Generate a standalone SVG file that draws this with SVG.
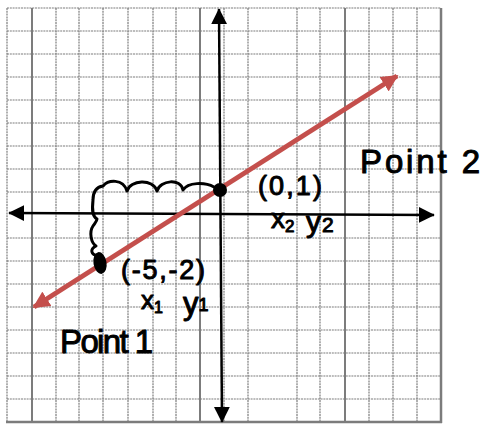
<svg xmlns="http://www.w3.org/2000/svg" width="483" height="424" viewBox="0 0 483 424">
<defs>
<style>
.g{stroke:#7c7c7c;stroke-width:1.2;stroke-dasharray:2 0.8;fill:none}
.gt{stroke:#7c7c7c;stroke-width:2;fill:none}
.ax{stroke:#000;stroke-width:2.5;fill:none}
.red{stroke:#c44f4c;stroke-width:5;fill:none}
.hw{font-family:"Liberation Sans",Arial,sans-serif;fill:#000;stroke:#000;stroke-width:1;stroke-linejoin:round}
</style>
<marker id="ba" viewBox="0 0 10 10" refX="9.5" refY="5" markerWidth="6.5" markerHeight="6.5" orient="auto-start-reverse" markerUnits="strokeWidth">
<path d="M0,0 L10,5 L0,10 Z" fill="#000"/>
</marker>
<marker id="ra" viewBox="0 0 10 10" refX="9" refY="5" markerWidth="3.4" markerHeight="3.4" orient="auto-start-reverse" markerUnits="strokeWidth">
<path d="M0,0 L10,5 L0,10 Z" fill="#c44f4c"/>
</marker>
</defs>
<rect width="483" height="424" fill="#fff"/>
<g id="grid">
<path class="g" d="M56,8V422M79,8V422M103,8V422M128,8V422M153,8V422M176,8V422M224,8V422M248,8V422M297,8V422M320,8V422M369,8V422M393,8V422M417,8V422"/>
<path class="gt" d="M32,8V422M200,8V422M345,8V422"/>
<path class="g" d="M7,31H441M7,54H441M7,77H441M7,100H441M7,123H441M7,146H441M7,169H441M7,192H441M7,238H441M7,261H441M7,284H441M7,307H441M7,330H441M7,353H441M7,376H441M7,399H441"/>
<path class="g" d="M7,8H441M7,8V422"/>
<path class="gt" d="M441,8V423M6,422H442" style="stroke-width:2.5"/>
</g>
<g id="connectors">
<line class="ax" x1="9" y1="213" x2="434" y2="215" marker-start="url(#ba)" marker-end="url(#ba)"/>
<line class="ax" x1="219" y1="9" x2="222" y2="422" marker-start="url(#ba)" marker-end="url(#ba)"/>
<line class="red" x1="34" y1="307" x2="397" y2="76" marker-start="url(#ra)" marker-end="url(#ra)"/>
<path d="M99,256 C90,255 90,249 96,246 C91,243 89,232 93,226 C95,223 97,221 97,219 C92,216 92,209 93,200 C93,192 96,187 103,186 C108,180 123,178 127,191 C130,180 153,178 157,191 C160,180 181,178 183,190 C188,182 205,182 214,187" fill="none" stroke="#000" stroke-width="3" stroke-linecap="round" stroke-linejoin="round"/>
</g>
<g id="point2">
<circle cx="220" cy="190" r="7" fill="#000"/>
<text class="hw" x="258" y="195" font-size="27" textLength="64" lengthAdjust="spacing">(0,1)</text>
<text class="hw" x="271" y="228" font-size="28">x<tspan font-size="17" dy="4">2</tspan></text>
<text class="hw" x="306" y="232" font-size="30">y<tspan font-size="21" dx="1">2</tspan></text>
<text class="hw" x="360" y="173" font-size="33" textLength="120" lengthAdjust="spacing">Point 2</text>
</g>
<g id="point1">
<ellipse cx="100" cy="263" rx="6.5" ry="11" transform="rotate(-10 100 263)" fill="#000"/>
<text class="hw" x="121" y="279" font-size="27" textLength="84" lengthAdjust="spacing">(-5,-2)</text>
<text class="hw" x="141" y="309" font-size="26">x<tspan font-size="16" dy="4">1</tspan></text>
<text class="hw" x="183" y="314" font-size="31">y<tspan font-size="18" dy="-3">1</tspan></text>
<text class="hw" x="60" y="353" font-size="33" textLength="93" lengthAdjust="spacing">Point 1</text>
</g>
</svg>
